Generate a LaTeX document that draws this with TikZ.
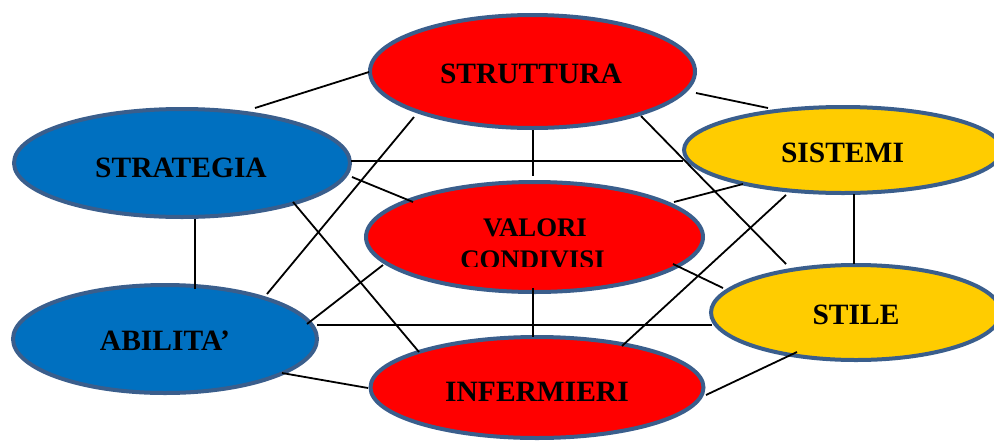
\documentclass[tikz,border=0pt]{standalone}
\usepackage{fontspec}
\setmainfont{Liberation Serif}
\usetikzlibrary{shapes.geometric}
\definecolor{ered}{HTML}{FF0000}
\definecolor{eblue}{HTML}{0070C0}
\definecolor{eyellow}{HTML}{FFCC00}
\definecolor{eborder}{HTML}{3A5E8C}
\tikzset{
  oval/.style={ellipse, draw=eborder, line width=4pt, inner sep=0pt},
  lbl/.style={anchor=base, inner sep=0pt, font=\bfseries\fontsize{29.5}{32}\selectfont},
  lblsmall/.style={anchor=base, inner sep=0pt, font=\bfseries\fontsize{26.8}{32}\selectfont},
  link/.style={line width=1.8pt, black},
  thicklink/.style={line width=2.8pt, black}
}
\begin{document}
\begin{tikzpicture}[x=1pt,y=-1pt]
\useasboundingbox (0,0) rectangle (994,440);
\clip (0,0) rectangle (994,440);
% ellipses
\node[oval, fill=ered, minimum width=325pt, minimum height=113pt] (strut) at (532.5,71.5) {};
\node[oval, fill=eblue, minimum width=336pt, minimum height=108pt] (strat) at (182,163) {};
\node[oval, fill=eyellow, minimum width=318pt, minimum height=86pt] (sist) at (843,150) {};
\node[oval, fill=ered, minimum width=337pt, minimum height=110pt] (val) at (534.5,237) {};
\node[oval, fill=eyellow, minimum width=290pt, minimum height=95pt] (stile) at (856,312.5) {};
\node[oval, fill=eblue, minimum width=304pt, minimum height=108pt] (abil) at (165,339) {};
\node[oval, fill=ered, minimum width=333pt, minimum height=101pt] (inf) at (537,387.5) {};
% connector end points
\coordinate (l1s) at (255,108);  \coordinate (l1e) at (369,72);
\coordinate (l2s) at (414,117);  \coordinate (l2e) at (267,294);
\coordinate (l3s) at (351,161);  \coordinate (l3e) at (683,161);
\coordinate (l4s) at (352,177);  \coordinate (l4e) at (413,202);
\coordinate (l5s) at (293,202);  \coordinate (l5e) at (419,352);
\coordinate (l6s) at (195,219);  \coordinate (l6e) at (195,289);
\coordinate (l7s) at (696,93);   \coordinate (l7e) at (768,108);
\coordinate (l8s) at (533,130);  \coordinate (l8e) at (533,176);
\coordinate (l9s) at (641,116);  \coordinate (l9e) at (786,264);
\coordinate (l10s) at (674,202); \coordinate (l10e) at (743,184);
\coordinate (l11s) at (786,195); \coordinate (l11e) at (622,346);
\coordinate (l12s) at (854,194); \coordinate (l12e) at (854,264);
\coordinate (l13s) at (383,265); \coordinate (l13e) at (307,324);
\coordinate (l14s) at (317,325); \coordinate (l14e) at (712,325);
\coordinate (l15s) at (673,264); \coordinate (l15e) at (723,288);
\coordinate (l16s) at (533,288); \coordinate (l16e) at (533,337);
\coordinate (l17s) at (282,373); \coordinate (l17e) at (368,388);
\coordinate (l18s) at (706,395); \coordinate (l18e) at (797,352);
% connectors
\draw[link] (l1s) -- (l1e);
\draw[link] (l2s) -- (l2e);
\draw[link] (l3s) -- (l3e);
\draw[link] (l4s) -- (l4e);
\draw[link] (l5s) -- (l5e);
\draw[link] (l6s) -- (l6e);
\draw[link] (l7s) -- (l7e);
\draw[link] (l8s) -- (l8e);
\draw[link] (l9s) -- (l9e);
\draw[link] (l10s) -- (l10e);
\draw[link] (l11s) -- (l11e);
\draw[thicklink] (l12s) -- (l12e);
\draw[link] (l13s) -- (l13e);
\draw[link] (l14s) -- (l14e);
\draw[link] (l15s) -- (l15e);
\draw[link] (l16s) -- (l16e);
\draw[link] (l17s) -- (l17e);
\draw[link] (l18s) -- (l18e);
% labels
\node[lbl] (tstrut) at (531,83) {STRUTTURA};
\node[lbl] (tstrat) at (181,177) {STRATEGIA};
\node[lbl] (tsist) at (842.5,162) {SISTEMI};
\node[lbl] (tstile) at (856,324) {STILE};
\node[lbl] (tabil) at (165,350) {ABILITA’};
\node[lbl] (tinf) at (537,401) {INFERMIERI};
\node[lblsmall] (tval) at (535,236) {VALORI};
\begin{scope}
\clip (0,100) rectangle (994,266);
\node[lblsmall] (tcond) at (532.5,268) {CONDIVISI};
\end{scope}
\end{tikzpicture}
\end{document}
